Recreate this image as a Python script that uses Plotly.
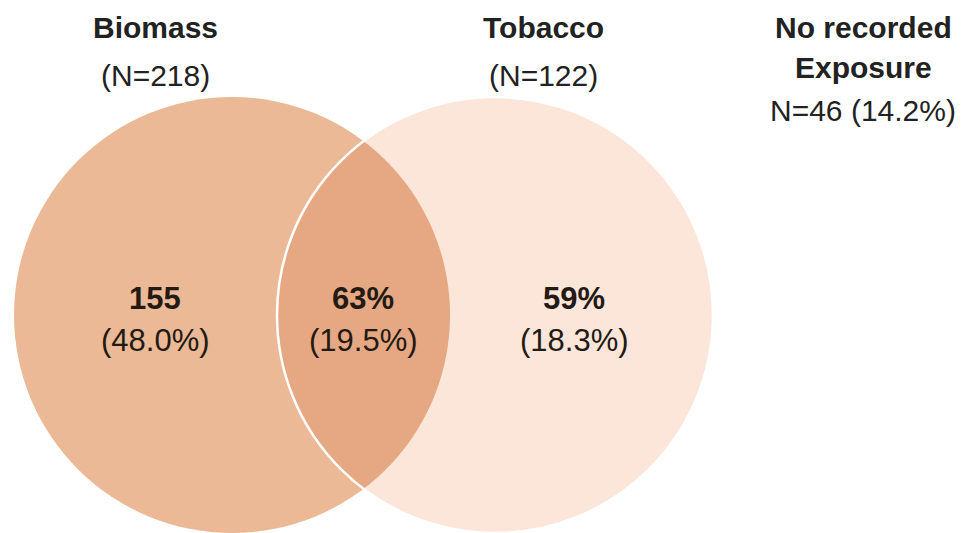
import numpy as np
import plotly.graph_objects as go

# ---- data ----
set_names = ["Biomass", "Tobacco"]
set_totals = ["(N=218)", "(N=122)"]
region_main = ["155", "63%", "59%"]          # biomass only, both, tobacco only
region_pct = ["(48.0%)", "(19.5%)", "(18.3%)"]
none_title = ["No recorded", "Exposure"]
none_value = "N=46 (14.2%)"

# geometry of the diagram (page-pixel data units)
centers_x = [232, 495]
center_y = 315
radius = 218
colors = {"left": "#EBB995", "right": "#FCE5D9", "both": "#E6A883"}

W, H = 963, 533
OFF = 8  # page body margin
FONT = "Liberation Sans"
TXT = "#231a14"

fig = go.Figure()

def circle_shape(cx, fill, line_color=None, line_w=0):
    return dict(type="circle", xref="x", yref="y",
                x0=cx - radius, x1=cx + radius,
                y0=center_y - radius, y1=center_y + radius,
                fillcolor=fill,
                line=dict(color=line_color or "rgba(0,0,0,0)", width=line_w),
                layer="below")

# lens (intersection) computed from the circles
d = centers_x[1] - centers_x[0]
h = np.sqrt(radius**2 - (d / 2) ** 2)
a = np.arcsin(h / radius)
t1 = np.linspace(-a, a, 120)               # arc of left circle (right side)
x_l = centers_x[0] + radius * np.cos(t1)
y_l = center_y + radius * np.sin(t1)
t2 = np.linspace(np.pi + a, np.pi - a, 120)  # arc of right circle (left side)
x_r = centers_x[1] + radius * np.cos(t2)
y_r = center_y + radius * np.sin(t2)
lens_x = np.concatenate([x_l, x_r])
lens_y = np.concatenate([y_l, y_r])
path = "M " + " L ".join(f"{x:.2f},{y:.2f}" for x, y in zip(lens_x, lens_y)) + " Z"

shapes = [
    circle_shape(centers_x[0], colors["left"]),
    circle_shape(centers_x[1], colors["right"]),
    dict(type="path", xref="x", yref="y", path=path, fillcolor=colors["both"],
         line=dict(width=0), layer="below"),
    dict(type="circle", xref="x", yref="y",
         x0=centers_x[1] - radius, x1=centers_x[1] + radius,
         y0=center_y - radius, y1=center_y + radius,
         fillcolor="rgba(0,0,0,0)", line=dict(color="white", width=2.5), layer="below"),
]

annotations = []

def ann(x, y, text, size, bold=False, color="#222222"):
    annotations.append(dict(
        x=x, y=y, xref="x", yref="y", text=f"<b>{text}</b>" if bold else text,
        showarrow=False, xanchor="center", yanchor="middle",
        font=dict(family=FONT, size=size, color=color)))

title_x = [155, 543]
for name, tot, tx in zip(set_names, set_totals, title_x):
    ann(tx, 27, name, 30, bold=True)
    ann(tx, 75, tot, 30)

ann(863, 27, none_title[0], 30, bold=True)
ann(863, 67, none_title[1], 30, bold=True)
ann(863, 110, none_value, 30)

region_x = [155, 363, 574]
for m, p, rx in zip(region_main, region_pct, region_x):
    ann(rx, 298, m, 31, bold=True, color=TXT)
    ann(rx, 340, p, 31, color=TXT)

fw, fh = W - OFF, H - OFF
fig.update_layout(
    width=fw, height=fh, margin=dict(l=0, r=0, t=0, b=0),
    paper_bgcolor="white", plot_bgcolor="white",
    xaxis=dict(range=[OFF, OFF + fw], visible=False, fixedrange=True),
    yaxis=dict(range=[OFF + fh, OFF], visible=False, fixedrange=True),
    shapes=shapes, annotations=annotations, showlegend=False,
)

fig.write_html("out.html")
